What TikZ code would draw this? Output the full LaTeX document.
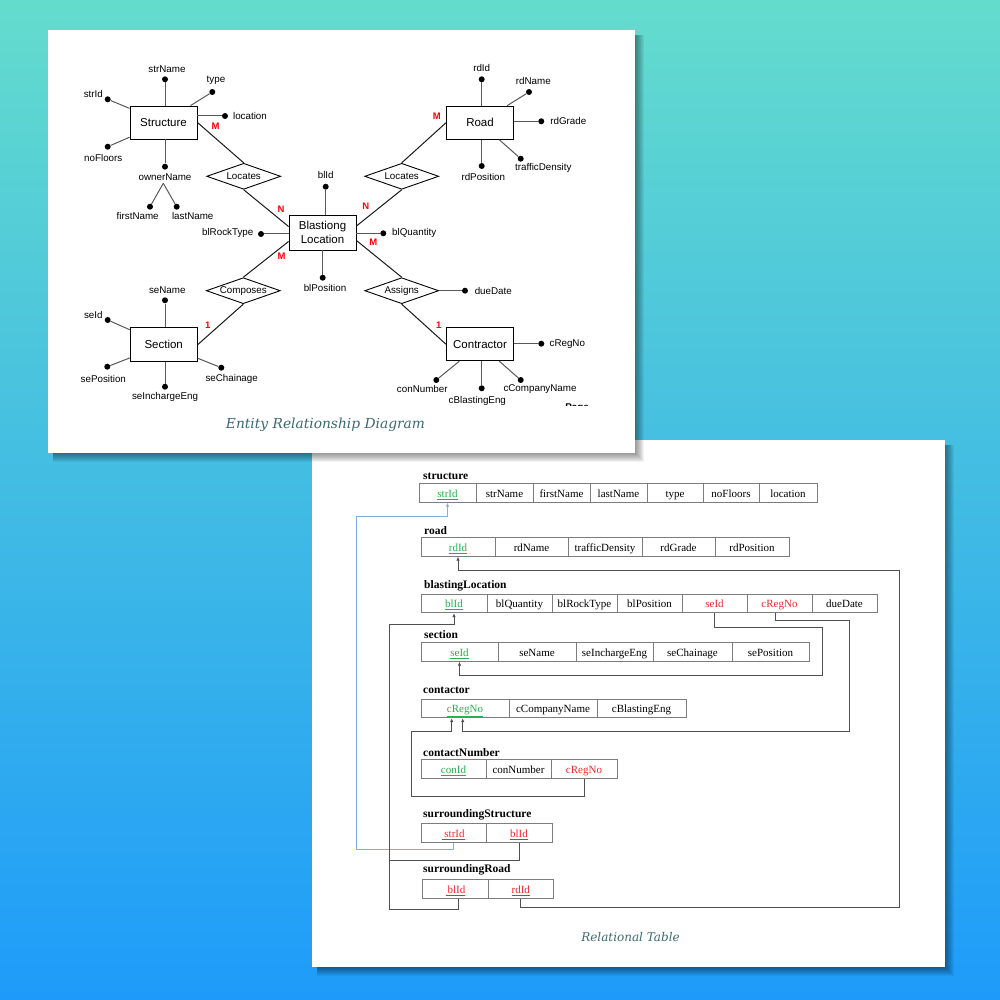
\documentclass[tikz,border=0pt]{standalone}
\usepackage{fontspec}
\setmainfont{Liberation Serif}
\newfontfamily\ersans{Liberation Sans}
\newfontfamily\capfont{DejaVu Serif}
\usetikzlibrary{shapes.geometric,arrows.meta}
\definecolor{bgtop}{RGB}{100,220,205}
\definecolor{bgbot}{RGB}{30,155,250}
\definecolor{pkgreen}{RGB}{40,175,75}
\definecolor{fkred}{RGB}{240,40,40}
\definecolor{capcol}{RGB}{60,105,115}
\definecolor{cellline}{RGB}{125,125,125}
\definecolor{linkcol}{RGB}{80,80,80}
\definecolor{bluelink}{RGB}{130,175,225}
\newcommand{\pkt}[1]{\textcolor{pkgreen}{\underline{#1}}}
\newcommand{\fkt}[1]{\textcolor{fkred}{#1}}
\newcommand{\fku}[1]{\textcolor{fkred}{\underline{#1}}}
\newcommand{\tcell}[5]{%
  \pgfmathsetmacro{\tcw}{#3-#2}\pgfmathsetmacro{\tcx}{(#2+#3)/2}%
  \node[cell, minimum width=\tcw pt] (#1) at (\tcx,#4) {#5};}
\newcommand{\cardshadow}[4]{%
  \foreach \k in {1,...,9}{\fill[black,opacity=0.05] (#1+5,#2+5) rectangle (#3+\k,#4+\k);}}
\tikzset{
  entity/.style={draw, line width=0.9pt, rectangle, minimum width=67pt, minimum height=33pt, inner sep=0pt, align=center, font=\ersans\fontsize{11.5}{14.5}\selectfont},
  rel/.style={draw, line width=0.9pt, diamond, aspect=2.85, inner sep=0pt, minimum width=74pt, minimum height=26pt, font=\ersans\fontsize{9.8}{12}\selectfont},
  attdot/.style={circle, fill=black, inner sep=0pt, minimum size=6pt},
  attlab/.style={inner sep=0pt, font=\ersans\fontsize{9.8}{12}\selectfont},
  attline/.style={draw=black!65, line width=1pt},
  relline/.style={draw=black!90, line width=1pt},
  mult/.style={inner sep=0pt, text=red, font=\ersans\bfseries\fontsize{9.5}{11}\selectfont},
  cell/.style={draw=cellline, line width=0.9pt, minimum height=18.5pt, inner sep=0pt, text height=8.5pt, text depth=0pt, font=\fontsize{11}{13}\selectfont},
  tname/.style={anchor=west, inner sep=0pt, font=\bfseries\fontsize{11.5}{13}\selectfont},
  fk/.style={draw=linkcol, line width=1pt, -{Latex[length=4pt,width=3.5pt]}},
  link/.style={draw=linkcol, line width=1pt},
  caption/.style={inner sep=0pt, text=capcol, font=\capfont\itshape\fontsize{12.5}{15}\selectfont}
}
\begin{document}
\begin{tikzpicture}[x=1pt,y=-1pt]
\useasboundingbox (0,0) rectangle (1000,1000);
\shade[top color=bgtop, bottom color=bgbot] (0,0) rectangle (1000,1000);

% ---------- Relational table card ----------
\cardshadow{312}{440}{945}{967}
\fill[white] (312,440) rectangle (945,967);

\node[tname] (tStructure) at (423,476.7) {structure};
\tcell{s1}{419}{476}{493}{\pkt{strId}}
\tcell{s2}{476}{533}{493}{strName}
\tcell{s3}{533}{590}{493}{firstName}
\tcell{s4}{590}{647}{493}{lastName}
\tcell{s5}{647}{703}{493}{type}
\tcell{s6}{703}{759}{493}{noFloors}
\tcell{s7}{759}{817}{493}{location}

\node[tname] (tRoad) at (424,530.7) {road};
\tcell{r1}{421}{495}{547}{\pkt{rdId}}
\tcell{r2}{495}{568}{547}{rdName}
\tcell{r3}{568}{642}{547}{trafficDensity}
\tcell{r4}{642}{715}{547}{rdGrade}
\tcell{r5}{715}{789}{547}{rdPosition}

\node[tname] (tBlast) at (424,585.7) {blastingLocation};
\tcell{b1}{421}{487}{603.5}{\pkt{blId}}
\tcell{b2}{487}{552}{603.5}{blQuantity}
\tcell{b3}{552}{617}{603.5}{blRockType}
\tcell{b4}{617}{682}{603.5}{blPosition}
\tcell{b5}{682}{747}{603.5}{\fkt{seId}}
\tcell{b6}{747}{812}{603.5}{\fkt{cRegNo}}
\tcell{b7}{812}{877}{603.5}{dueDate}

\node[tname] (tSection) at (424,634.3) {section};
\tcell{se1}{421}{498}{652}{\pkt{seId}}
\tcell{se2}{498}{576}{652}{seName}
\tcell{se3}{576}{653}{652}{seInchargeEng}
\tcell{se4}{653}{732}{652}{seChainage}
\tcell{se5}{732}{809}{652}{sePosition}

\node[tname] (tContactor) at (423,690) {contactor};
\tcell{co1}{421}{509}{708.5}{\pkt{cRegNo}}
\tcell{co2}{509}{597}{708.5}{cCompanyName}
\tcell{co3}{597}{686}{708.5}{cBlastingEng}

\node[tname] (tContactNumber) at (423,752.3) {contactNumber};
\tcell{cn1}{421}{486}{769}{\pkt{conId}}
\tcell{cn2}{486}{551}{769}{conNumber}
\tcell{cn3}{551}{617}{769}{\fkt{cRegNo}}

\node[tname] (tSurStr) at (423,815) {surroundingStructure};
\tcell{ss1}{421}{486}{833}{\fku{\kern2pt strId}}
\tcell{ss2}{486}{552}{833}{\fku{blId}}

\node[tname] (tSurRoad) at (423,870) {surroundingRoad};
\tcell{sr1}{422.7}{488.3}{889}{\fku{\kern2pt blId}}
\tcell{sr2}{488.3}{553.3}{889}{\fku{rdId}}

% connectors
\draw[fk, draw=bluelink] (ss1.south) |- (356.7,849.5) |- (447.5,516.7) -- (s1.south);
\draw[fk] (sr2.south) |- (899,907.5) |- (458,570) -- (r1.south);
\draw[fk] ([xshift=3pt]sr1.south) |- (389,909) -- (389,624) -| (b1.south);
\draw[link] (ss2.south) |- (389,860);
\draw[fk] (b5.south) |- (822.7,627.7) |- (459.5,675) -- (se1.south);
\draw[fk] ([xshift=-4pt]b6.south) |- (849,620) |- (462.7,731.7) -- ([xshift=-2.3pt]co1.south);
\draw[fk] (cn3.south) |- (411.7,796.7) |- (451.7,731.7) -- ([xshift=-13.3pt]co1.south);

\node[caption, font=\capfont\itshape\fontsize{12}{15}\selectfont] (capRT) at (630.5,937) {Relational Table};

% ---------- ER card ----------
\cardshadow{48}{30}{635}{453}
\fill[white] (48,30) rectangle (635,453);

\begin{scope}
\clip (48,30) rectangle (635,405.5);
% entities
\node[entity] (str) at (163.5,122.5) {Structure};
\node[entity] (rd) at (480,122.7) {Road};
\node[entity, minimum height=35pt] (bl) at (322.5,232.5) {Blastiong\\Location};
\node[entity, minimum height=34pt] (sec) at (163.7,344.7) {Section};
\node[entity] (con) at (480,344.3) {Contractor};
% relationships
\node[rel] (loc1) at (243.7,176.3) {Locates};
\node[rel] (loc2) at (401.7,176.3) {Locates};
\node[rel] (cmp) at (243.3,290.7) {Composes};
\node[rel] (asg) at (401.7,290.7) {Assigns};

\draw[relline] (str.east) -- (loc1.north);
\draw[relline] (loc1.south) -- ([yshift=6pt]bl.west);
\draw[relline] (rd.west) -- (loc2.north);
\draw[relline] (loc2.south) -- ([yshift=6.5pt]bl.east);
\draw[relline] ([yshift=-9pt]bl.west) -- (cmp.north);
\draw[relline] (cmp.south) -- (sec.east);
\draw[relline] ([yshift=-8pt]bl.east) -- (asg.north);
\draw[relline] (asg.south) -- (con.west);

% Structure attributes
\node[attdot] (dStrName) at (165,79.3) {};
\node[attlab] (lStrName) at (167,69) {strName};
\node[attdot] (dType) at (212.3,92) {};
\node[attlab] (lType) at (216,80.7) {type};
\node[attdot] (dStrId) at (107.7,99.3) {};
\node[attlab] (lStrId) at (93.3,94.3) {strId};
\node[attdot] (dLocation) at (225,116) {};
\node[attlab] (lLocation) at (250,116) {location};
\node[attdot] (dNoFloors) at (107.7,146.7) {};
\node[attlab] (lNoFloors) at (103.3,158.3) {noFloors};
\node[attdot] (dOwner) at (165,166.7) {};
\node[attlab] (lOwner) at (165,176.7) {ownerName};
\coordinate (own) at (163.3,183.3);
\node[attdot] (dFirst) at (150,206.7) {};
\node[attlab] (lFirst) at (137.7,215.7) {firstName};
\node[attdot] (dLast) at (176.7,206.7) {};
\node[attlab] (lLast) at (192.7,215.7) {lastName};
\draw[attline] (dStrName) -- (dStrName |- str.north);
\draw[attline] (dType) -- (str);
\draw[attline] (dStrId) -- (str);
\draw[attline] (dLocation) -- (dLocation -| str.east);
\draw[attline] (dNoFloors) -- (str);
\draw[attline] (dOwner) -- (dOwner |- str.south);
\draw[attline] (own) -- (dFirst);
\draw[attline] (own) -- (dLast);
\node[mult] (m1) at (215.7,126) {M};

% Road attributes
\node[attdot] (dRdId) at (481.7,79.3) {};
\node[attlab] (lRdId) at (481.7,68.3) {rdId};
\node[attdot] (dRdName) at (529,92) {};
\node[attlab] (lRdName) at (533.3,80.7) {rdName};
\node[attdot] (dRdGrade) at (541.3,121.3) {};
\node[attlab] (lRdGrade) at (568.3,121.3) {rdGrade};
\node[attdot] (dRdPos) at (481.7,166) {};
\node[attlab] (lRdPos) at (483.3,177.3) {rdPosition};
\node[attdot] (dTraffic) at (520.7,158.7) {};
\node[attlab] (lTraffic) at (543.3,168) {trafficDensity};
\draw[attline] (dRdId) -- (dRdId |- rd.north);
\draw[attline] (dRdName) -- (rd);
\draw[attline] (dRdGrade) -- (dRdGrade -| rd.east);
\draw[attline] (dRdPos) -- (dRdPos |- rd.south);
\draw[attline] (dTraffic) -- (rd);
\node[mult] (m2) at (436.7,116.7) {M};

% Blasting location attributes
\node[attdot] (dBlId) at (325.7,186.7) {};
\node[attlab] (lBlId) at (325.7,175) {blId};
\node[attdot] (dBlRock) at (261,234) {};
\node[attlab] (lBlRock) at (227.7,233.3) {blRockType};
\node[attdot] (dBlQty) at (383.3,233.3) {};
\node[attlab] (lBlQty) at (414.3,233.3) {blQuantity};
\node[attdot] (dBlPos) at (322.7,277.7) {};
\node[attlab] (lBlPos) at (325,288.3) {blPosition};
\draw[attline] (dBlId) -- (dBlId |- bl.north);
\draw[attline] (dBlRock) -- (dBlRock -| bl.west);
\draw[attline] (dBlQty) -- (dBlQty -| bl.east);
\draw[attline] (dBlPos) -- (dBlPos |- bl.south);
\node[mult] (n1) at (281,209.3) {N};
\node[mult] (n2) at (365.7,206) {N};
\node[mult] (m3) at (281.7,256) {M};
\node[mult] (m4) at (373.3,242.7) {M};

% Section attributes
\node[attdot] (dSeName) at (165,300.3) {};
\node[attlab] (lSeName) at (167.3,290) {seName};
\node[attdot] (dSeId) at (107.7,320) {};
\node[attlab] (lSeId) at (93.3,315) {seId};
\node[attdot] (dSePos) at (107.3,366.7) {};
\node[attlab] (lSePos) at (103.3,379) {sePosition};
\node[attdot] (dSeEng) at (165,386.7) {};
\node[attlab] (lSeEng) at (165,396.7) {seInchargeEng};
\node[attdot] (dSeCh) at (221.3,367.7) {};
\node[attlab] (lSeCh) at (231.7,379) {seChainage};
\draw[attline] (dSeName) -- (dSeName |- sec.north);
\draw[attline] (dSeId) -- (sec);
\draw[attline] (dSePos) -- (sec);
\draw[attline] (dSeEng) -- (dSeEng |- sec.south);
\draw[attline] (dSeCh) -- (sec);
\node[mult] (one1) at (207.7,325.7) {1};

% Assigns attribute
\node[attdot] (dDue) at (465,290.7) {};
\node[attlab] (lDue) at (493.3,290.7) {dueDate};
\draw[attline] (asg.east) -- (dDue);

% Contractor attributes
\node[attdot] (dCReg) at (541.3,343.7) {};
\node[attlab] (lCReg) at (567.3,343.7) {cRegNo};
\node[attdot] (dConNum) at (436.3,380) {};
\node[attlab] (lConNum) at (422.3,389.3) {conNumber};
\node[attdot] (dCBlast) at (481.7,388.3) {};
\node[attlab] (lCBlast) at (477.3,400.7) {cBlastingEng};
\node[attdot] (dCComp) at (520.7,380) {};
\node[attlab] (lCComp) at (540,389.3) {cCompanyName};
\draw[attline] (dCReg) -- (dCReg -| con.east);
\draw[attline] (dConNum) -- (con);
\draw[attline] (dCBlast) -- (dCBlast |- con.south);
\draw[attline] (dCComp) -- (con);
\node[mult] (one2) at (438.7,325.7) {1};

\node[attlab, font=\ersans\bfseries\fontsize{9.8}{12}\selectfont] (pageFrag) at (577,408.5) {Page};
\end{scope}

\node[caption, font=\capfont\itshape\fontsize{13.8}{16}\selectfont] (capER) at (325.5,425) {Entity Relationship Diagram};
\end{tikzpicture}
\end{document}
